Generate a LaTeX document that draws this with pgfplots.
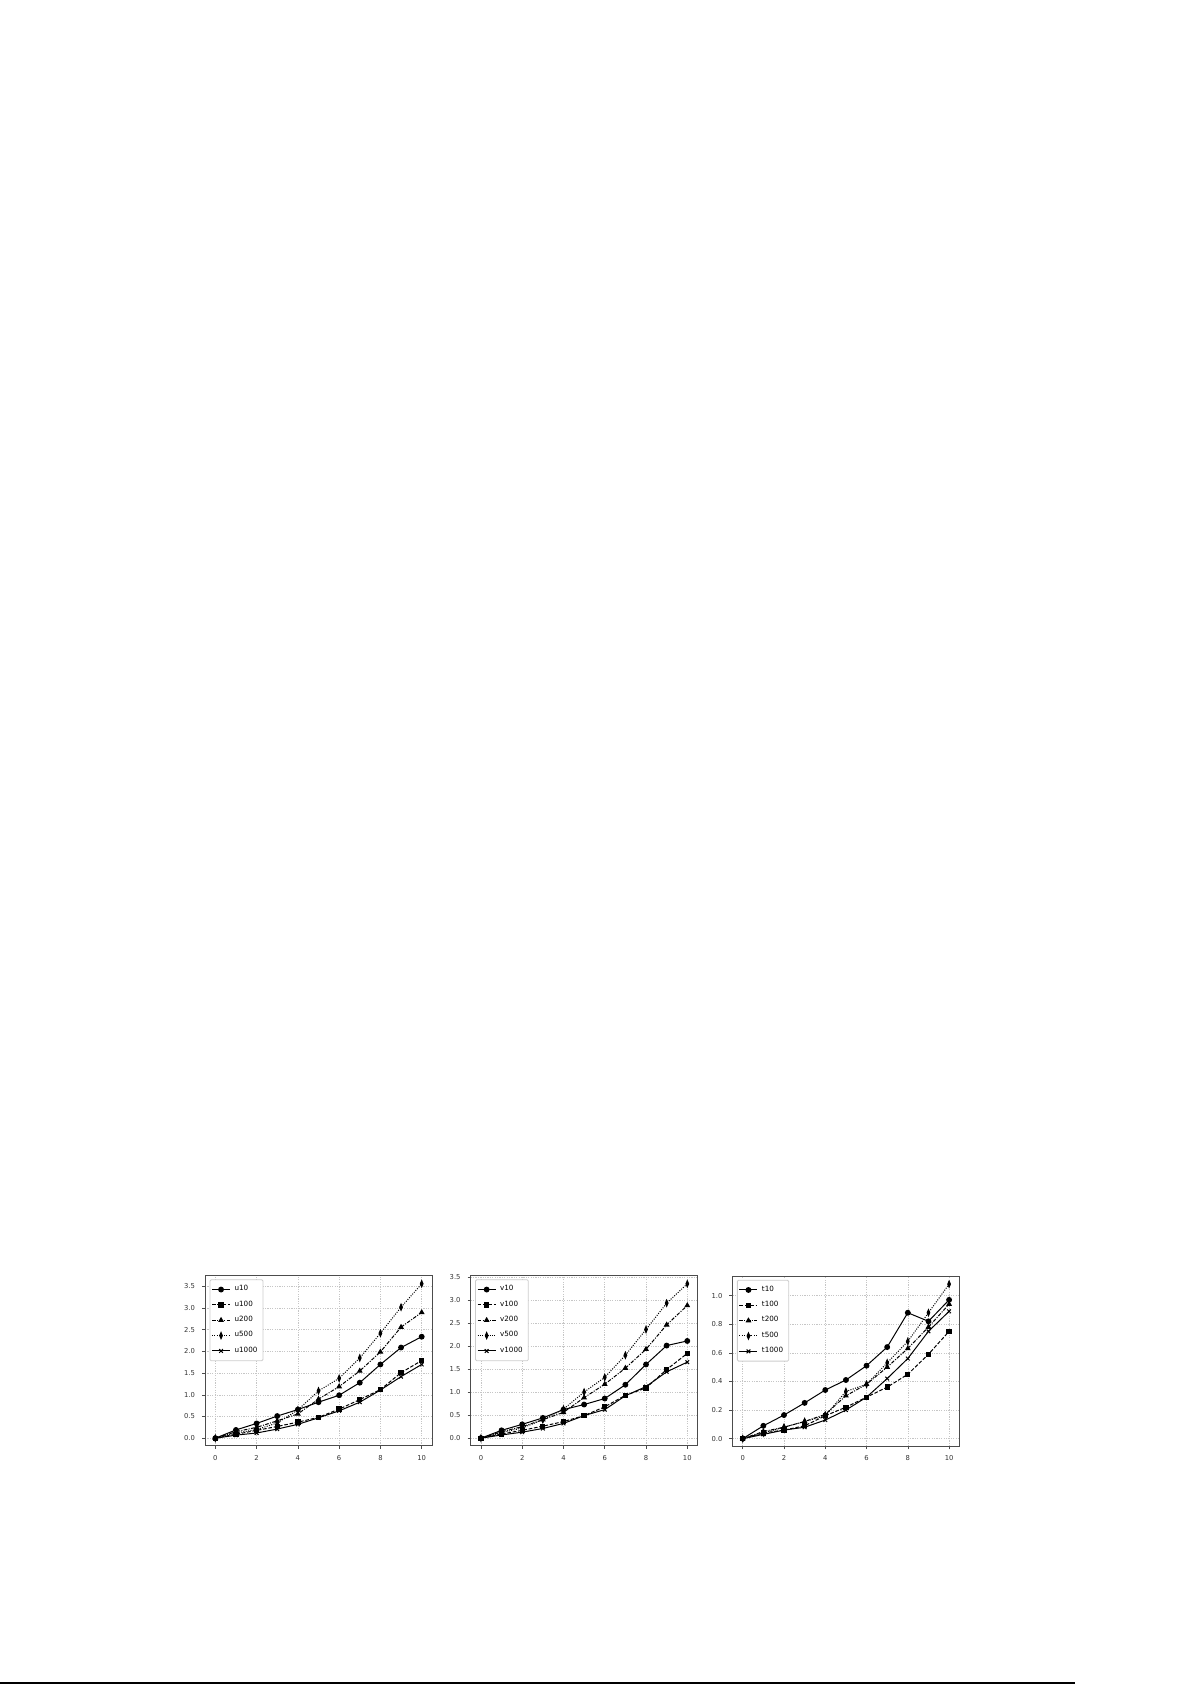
\documentclass[border=0pt]{standalone}
\usepackage{fontspec}
\setmainfont{DejaVu Sans}
\usepackage{pgfplots}
\pgfplotsset{compat=1.18}

\pgfplotsset{
  panel/.style={
    scale only axis, width=113.5pt, height=85pt, anchor=south west,
    xmin=-0.5, xmax=10.5, xtick={0,2,4,6,8,10},
    grid=major,
    major grid style={gray!45, line width=0.3pt, dash pattern=on 0.6pt off 0.6pt},
    axis line style={black!70, line width=0.5pt},
    tick align=outside, tick pos=left, major tick length=1.5pt,
    tick style={black!70, line width=0.3pt},
    ticklabel style={font=\fontsize{3.4}{4}\selectfont, text=black!80},
    xticklabel style={yshift=0.3pt},
    /pgf/number format/assume math mode=true,
    yticklabel style={/pgf/number format/.cd, fixed, fixed zerofill, precision=1},
    legend pos=north west,
    legend cell align=left,
    legend style={font=\fontsize{3.6}{4.2}\selectfont, draw=black!20, rounded corners=0.6pt,
      inner sep=0.8pt, row sep=-0.5pt, at={(0.02,0.98)}, anchor=north west},
    legend image code/.code={\draw[mark repeat=2, mark phase=2, #1] plot coordinates {(0pt,0pt) (4.5pt,0pt) (9pt,0pt)};},
    every axis plot/.append style={line width=0.5pt, black, mark size=1.2pt},
  },
  sA/.style={solid, mark=*},
  sB/.style={dash pattern=on 1.8pt off 0.9pt, mark=square*, mark options={solid, scale=0.9}},
  sC/.style={dash pattern=on 1.8pt off 0.7pt on 0.5pt off 0.7pt, mark=triangle*, mark options={solid}},
  sD/.style={dash pattern=on 0.5pt off 0.7pt, mark=diamond*, mark options={solid, xscale=0.75, yscale=1.3}},
  sE/.style={solid, mark=x, mark options={mark size=1.3pt}},
}

\begin{document}
\begin{tikzpicture}
\path[use as bounding box] (0pt,0pt) rectangle (596pt,842.5pt);
\draw[line width=0.6pt] (0pt,1pt) -- (537.5pt,1pt);

% left panel: u
\begin{axis}[panel, at={(102.5pt,119.5pt)}, ymin=-0.18, ymax=3.74, ytick={0,0.5,...,3.5}]
\addplot[sA] coordinates {(0,0) (1,0.19) (2,0.34) (3,0.51) (4,0.66) (5,0.83) (6,0.99) (7,1.28) (8,1.70) (9,2.09) (10,2.34)};
\addplot[sB] coordinates {(0,0) (1,0.09) (2,0.18) (3,0.27) (4,0.37) (5,0.48) (6,0.67) (7,0.89) (8,1.12) (9,1.51) (10,1.79)};
\addplot[sC] coordinates {(0,0) (1,0.15) (2,0.25) (3,0.40) (4,0.56) (5,0.90) (6,1.19) (7,1.55) (8,1.99) (9,2.56) (10,2.90)};
\addplot[sD] coordinates {(0,0) (1,0.12) (2,0.20) (3,0.35) (4,0.65) (5,1.09) (6,1.38) (7,1.85) (8,2.42) (9,3.02) (10,3.56)};
\addplot[sE] coordinates {(0,0) (1,0.07) (2,0.12) (3,0.21) (4,0.32) (5,0.47) (6,0.63) (7,0.83) (8,1.11) (9,1.42) (10,1.70)};
\legend{u10,u100,u200,u500,u1000}
\end{axis}

% middle panel: v
\begin{axis}[panel, at={(235.3pt,119.5pt)}, ymin=-0.17, ymax=3.52, ytick={0,0.5,...,3.5}]
\addplot[sA] coordinates {(0,0) (1,0.17) (2,0.30) (3,0.44) (4,0.62) (5,0.73) (6,0.86) (7,1.16) (8,1.60) (9,2.01) (10,2.11)};
\addplot[sB] coordinates {(0,0) (1,0.09) (2,0.17) (3,0.26) (4,0.36) (5,0.49) (6,0.68) (7,0.93) (8,1.09) (9,1.49) (10,1.84)};
\addplot[sC] coordinates {(0,0) (1,0.14) (2,0.25) (3,0.40) (4,0.56) (5,0.88) (6,1.17) (7,1.52) (8,1.93) (9,2.46) (10,2.88)};
\addplot[sD] coordinates {(0,0) (1,0.12) (2,0.22) (3,0.40) (4,0.63) (5,1.00) (6,1.32) (7,1.80) (8,2.36) (9,2.93) (10,3.35)};
\addplot[sE] coordinates {(0,0) (1,0.07) (2,0.13) (3,0.21) (4,0.32) (5,0.49) (6,0.62) (7,0.92) (8,1.12) (9,1.44) (10,1.65)};
\legend{v10,v100,v200,v500,v1000}
\end{axis}

% right panel: t
\begin{axis}[panel, at={(366.2pt,119.3pt)}, ymin=-0.054, ymax=1.134, ytick={0,0.2,...,1.0}]
\addplot[sA] coordinates {(0,0) (1,0.09) (2,0.165) (3,0.25) (4,0.34) (5,0.41) (6,0.51) (7,0.64) (8,0.88) (9,0.82) (10,0.97)};
\addplot[sB] coordinates {(0,0) (1,0.04) (2,0.06) (3,0.09) (4,0.16) (5,0.22) (6,0.29) (7,0.36) (8,0.45) (9,0.59) (10,0.75)};
\addplot[sC] coordinates {(0,0) (1,0.05) (2,0.08) (3,0.12) (4,0.17) (5,0.30) (6,0.38) (7,0.50) (8,0.63) (9,0.78) (10,0.94)};
\addplot[sD] coordinates {(0,0) (1,0.04) (2,0.08) (3,0.12) (4,0.16) (5,0.33) (6,0.38) (7,0.53) (8,0.68) (9,0.88) (10,1.08)};
\addplot[sE] coordinates {(0,0) (1,0.03) (2,0.06) (3,0.08) (4,0.13) (5,0.20) (6,0.29) (7,0.42) (8,0.56) (9,0.75) (10,0.89)};
\legend{t10,t100,t200,t500,t1000}
\end{axis}
\end{tikzpicture}
\end{document}
